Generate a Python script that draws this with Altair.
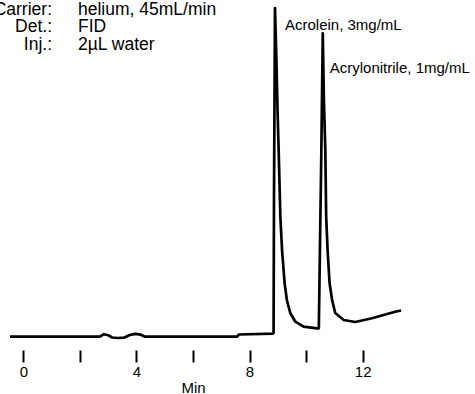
import altair as alt
import pandas as pd

# Chromatogram trace (time in minutes, detector response in arbitrary units)
time_min = [-0.47, 2.71, 2.85, 3.00, 3.14, 3.35, 3.56, 3.74, 3.95, 4.16, 4.30,
            7.56, 7.63, 8.82, 8.85, 8.865, 8.90, 8.95, 8.99, 9.03, 9.09, 9.15,
            9.24, 9.32, 9.44, 9.62, 9.91, 10.39, 10.45, 10.54, 10.59, 10.63,
            10.68, 10.71, 10.76, 10.83, 10.92, 11.03, 11.33, 11.74, 12.33,
            13.15, 13.36]
response = [0, 0, 2.5, 1.5, -0.8, -1.3, -1.0, 1.5, 2.8, 2.0, 0,
            0, 2.2, 3.0, 3.7, 136.7, 328.7, 276.7, 226.7, 186.7, 120, 86.7,
            53.7, 36.7, 23.7, 15, 10, 8.4, 8.4, 186.7, 303.4, 236.7,
            186.7, 120, 86.7, 53.7, 36.7, 23.7, 16.7, 14.7, 18.4,
            25, 26.2]

# Peak annotations
peak_names = ["Acrolein, 3mg/mL", "Acrylonitrile, 1mg/mL"]
peak_times = [8.90, 10.59]
peak_heights = [328.7, 303.4]

# Conditions header
cond_keys = ["Carrier:", "Det.:", "Inj.:"]
cond_vals = ["helium, 45mL/min", "FID", "2µL water"]

# Axis ticks
tick_values = [0, 2, 4, 6, 8, 10, 12]

FONT = "Liberation Sans"

trace = pd.DataFrame({"t": time_min, "r": response})
peaks = pd.DataFrame({"name": peak_names, "t": peak_times, "r": peak_heights,
                      "i": list(range(len(peak_names)))})
cond = pd.DataFrame({"key": cond_keys, "val": cond_vals, "row": list(range(len(cond_keys)))})

xscale = alt.Scale(domain=[-0.824, 15.973], nice=False, zero=False)
yscale = alt.Scale(domain=[-13.3, 336.7], nice=False, zero=False)
rowscale = alt.Scale(domain=[0, 2], range=[14.5, 50], nice=False, zero=False)

xaxis = alt.Axis(
    values=tick_values, domain=False, grid=False,
    tickSize=12, tickWidth=2, tickColor="black",
    labelExpr="datum.value % 4 === 0 ? datum.label : ''",
    labelFont=FONT, labelFontSize=15, labelColor="black", labelPadding=2,
    labelFlush=False, labelOverlap=False,
    title="Min", titleFont=FONT, titleFontSize=15, titleFontWeight="normal",
    titleColor="black", titleX=193, titleY=42, titleBaseline="alphabetic",
)

line = alt.Chart(trace).mark_line(color="black", strokeWidth=2.7, strokeJoin="round").encode(
    x=alt.X("t:Q", scale=xscale, axis=xaxis),
    y=alt.Y("r:Q", scale=yscale, axis=None),
)

def peak_label(idx, dx, dy):
    return alt.Chart(peaks).transform_filter(alt.datum.i == idx).mark_text(
        align="left", baseline="middle", font=FONT, fontSize=15, color="black", dx=dx, dy=dy
    ).encode(
        x=alt.X("t:Q", scale=xscale),
        y=alt.Y("r:Q", scale=yscale, axis=None),
        text="name:N",
    )

key_text = alt.Chart(cond).mark_text(
    align="right", baseline="alphabetic", font=FONT, fontSize=17.5, color="black"
).encode(
    x=alt.value(52),
    y=alt.Y("row:Q", scale=rowscale, axis=None),
    text="key:N",
)

val_text = alt.Chart(cond).mark_text(
    align="left", baseline="alphabetic", font=FONT, fontSize=17.5, color="black"
).encode(
    x=alt.value(78),
    y=alt.Y("row:Q", scale=rowscale, axis=None),
    text="val:N",
)

chart = alt.layer(
    line, peak_label(0, 10, 17), peak_label(1, 7, 35), key_text, val_text
).resolve_scale(y="independent").properties(
    width=475, height=350,
    autosize=alt.AutoSizeParams(type="none"),
    padding={"left": 0, "top": 0, "right": 0, "bottom": 44},
).configure_view(stroke=None)

chart.save("out.html", embed_options={"renderer": "svg", "actions": False})
